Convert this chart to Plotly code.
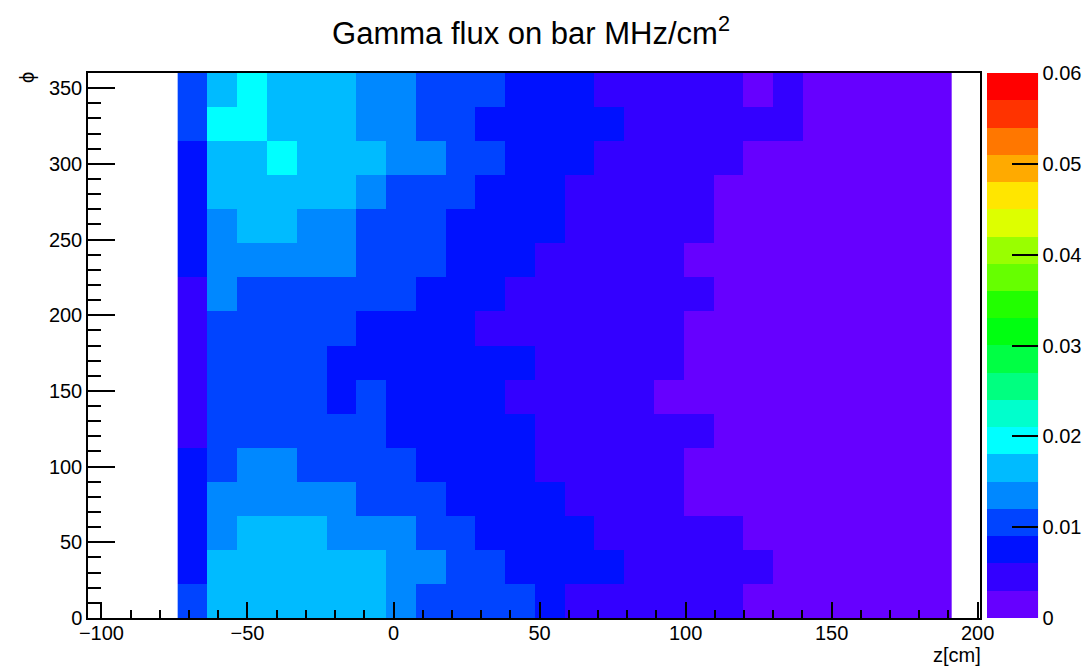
import numpy as np
import plotly.graph_objects as go

# ---------------- data ----------------
# z bins (cm): 26 bins between these limits
Z_LOW, Z_HIGH, N_Z = -73.9, 191.1, 26
# phi bins (deg): 16 bins between these limits
PHI_LOW, PHI_HIGH, N_PHI = 0.0, 360.0, 16

# Gamma flux estimates in kHz/cm^2 (rows: phi bin from 0 upward, cols: z bins)
flux_khz = [
    [10.5,16.5,16.5,16.5,16.5,16.5,16.5,13.5,10.5,10.5,10.5,10.5,7.5,4.5,4.5,4.5,4.5,4.5,4.5,1.5,1.5,1.5,1.5,1.5,1.5,1.5],
    [7.5,16.5,16.5,16.5,16.5,16.5,16.5,13.5,13.5,10.5,10.5,7.5,7.5,7.5,7.5,4.5,4.5,4.5,4.5,4.5,1.5,1.5,1.5,1.5,1.5,1.5],
    [7.5,13.5,16.5,16.5,16.5,13.5,13.5,13.5,10.5,10.5,7.5,7.5,7.5,7.5,4.5,4.5,4.5,4.5,4.5,1.5,1.5,1.5,1.5,1.5,1.5,1.5],
    [7.5,13.5,13.5,13.5,13.5,13.5,10.5,10.5,10.5,7.5,7.5,7.5,7.5,4.5,4.5,4.5,4.5,1.5,1.5,1.5,1.5,1.5,1.5,1.5,1.5,1.5],
    [7.5,10.5,13.5,13.5,10.5,10.5,10.5,10.5,7.5,7.5,7.5,7.5,4.5,4.5,4.5,4.5,4.5,1.5,1.5,1.5,1.5,1.5,1.5,1.5,1.5,1.5],
    [4.5,10.5,10.5,10.5,10.5,10.5,10.5,7.5,7.5,7.5,7.5,7.5,4.5,4.5,4.5,4.5,4.5,4.5,1.5,1.5,1.5,1.5,1.5,1.5,1.5,1.5],
    [4.5,10.5,10.5,10.5,10.5,7.5,10.5,7.5,7.5,7.5,7.5,4.5,4.5,4.5,4.5,4.5,1.5,1.5,1.5,1.5,1.5,1.5,1.5,1.5,1.5,1.5],
    [4.5,10.5,10.5,10.5,10.5,7.5,7.5,7.5,7.5,7.5,7.5,7.5,4.5,4.5,4.5,4.5,4.5,1.5,1.5,1.5,1.5,1.5,1.5,1.5,1.5,1.5],
    [4.5,10.5,10.5,10.5,10.5,10.5,7.5,7.5,7.5,7.5,4.5,4.5,4.5,4.5,4.5,4.5,4.5,1.5,1.5,1.5,1.5,1.5,1.5,1.5,1.5,1.5],
    [4.5,13.5,10.5,10.5,10.5,10.5,10.5,10.5,7.5,7.5,7.5,4.5,4.5,4.5,4.5,4.5,4.5,4.5,1.5,1.5,1.5,1.5,1.5,1.5,1.5,1.5],
    [7.5,13.5,13.5,13.5,13.5,13.5,10.5,10.5,10.5,7.5,7.5,7.5,4.5,4.5,4.5,4.5,4.5,1.5,1.5,1.5,1.5,1.5,1.5,1.5,1.5,1.5],
    [7.5,13.5,16.5,16.5,13.5,13.5,10.5,10.5,10.5,7.5,7.5,7.5,7.5,4.5,4.5,4.5,4.5,4.5,1.5,1.5,1.5,1.5,1.5,1.5,1.5,1.5],
    [7.5,16.5,16.5,16.5,16.5,16.5,13.5,10.5,10.5,10.5,7.5,7.5,7.5,4.5,4.5,4.5,4.5,4.5,1.5,1.5,1.5,1.5,1.5,1.5,1.5,1.5],
    [7.5,16.5,16.5,19.5,16.5,16.5,16.5,13.5,13.5,10.5,10.5,7.5,7.5,7.5,4.5,4.5,4.5,4.5,4.5,1.5,1.5,1.5,1.5,1.5,1.5,1.5],
    [10.5,19.5,19.5,16.5,16.5,16.5,13.5,13.5,10.5,10.5,7.5,7.5,7.5,7.5,7.5,4.5,4.5,4.5,4.5,4.5,4.5,1.5,1.5,1.5,1.5,1.5],
    [10.5,16.5,19.5,16.5,16.5,16.5,13.5,13.5,10.5,10.5,10.5,7.5,7.5,7.5,4.5,4.5,4.5,4.5,4.5,1.5,4.5,1.5,1.5,1.5,1.5,1.5],
]

# palette (20 contour levels, low -> high)
palette = ["#6600ff", "#3300ff", "#0011ff", "#0044ff", "#0088ff", "#00bbff",
           "#00ffff", "#00ffcc", "#00ff80", "#00ff44", "#00ff11", "#22ff00",
           "#66ff00", "#99ff00", "#ddff00", "#ffe600", "#ffaa00", "#ff7700",
           "#ff3300", "#ff0000"]
Z_MIN, Z_MAX = 0.0, 0.06
cbar_ticks = [0, 0.01, 0.02, 0.03, 0.04, 0.05, 0.06]
cbar_text = ["0", "0.01", "0.02", "0.03", "0.04", "0.05", "0.06"]

# ---------------- figure ----------------
W, H = 1090, 671
L, R, T, B = 88, 110, 73, 53
pw, ph = W - L - R, H - T - B

z = np.array(flux_khz) / 1000.0
assert z.shape == (N_PHI, N_Z)
x_edges = np.linspace(Z_LOW, Z_HIGH, N_Z + 1)
y_edges = np.linspace(PHI_LOW, PHI_HIGH, N_PHI + 1)

n = len(palette)
cscale = []
for i, c in enumerate(palette):
    cscale.append([i / n, c])
    cscale.append([(i + 1) / n, c])

FONT = "Liberation Sans, Arial, Helvetica, sans-serif"

def px_x(p):
    return (p - L) / pw

def px_y(p):
    return (H - B - p) / ph

fig = go.Figure(go.Heatmap(
    z=z, x=x_edges, y=y_edges,
    colorscale=cscale, zmin=Z_MIN, zmax=Z_MAX,
    hoverinfo="skip",
    colorbar=dict(
        thickness=51, thicknessmode="pixels",
        len=1, lenmode="fraction",
        x=px_x(986.7), xanchor="left", xpad=0,
        y=0.5, yanchor="middle", ypad=0,
        outlinewidth=0,
        ticks="inside", ticklen=26, tickwidth=1.5, tickcolor="black",
        tickvals=cbar_ticks, ticktext=cbar_text,
        tickfont=dict(size=20, color="black", family=FONT),
    ),
))

fig.update_layout(
    width=W, height=H,
    margin=dict(l=L, r=R, t=T, b=B, autoexpand=False),
    template="none",
    paper_bgcolor="white", plot_bgcolor="white",
    font=dict(family=FONT, size=20, color="black"),
    title=dict(text="Gamma flux on bar MHz/cm<sup>2</sup>",
               x=531 / W, xref="container", xanchor="center",
               y=1 - 33 / H, yref="container", yanchor="middle",
               font=dict(size=31, family=FONT, color="black")),
    showlegend=False,
)

fig.update_xaxes(
    range=[-104.6, 200.8], showgrid=False, zeroline=False,
    showline=True, linecolor="black", linewidth=1.5, mirror=True,
    ticks="inside", ticklen=16, tickwidth=1.5, tickcolor="black",
    tick0=0, dtick=50, ticklabelstandoff=-4,
    minor=dict(ticks="inside", ticklen=8, tickwidth=1.5, tickcolor="black", dtick=10, tick0=0, showgrid=False),
    tickfont=dict(size=20, family=FONT, color="black"),
)
fig.update_yaxes(
    range=[0, 360], showgrid=False, zeroline=False,
    showline=True, linecolor="black", linewidth=1.5, mirror=True,
    ticks="inside", ticklen=27, tickwidth=1.5, tickcolor="black",
    tick0=0, dtick=50,
    minor=dict(ticks="inside", ticklen=13, tickwidth=1.5, tickcolor="black", dtick=10, tick0=0, showgrid=False),
    tickfont=dict(size=20, family=FONT, color="black"),
)

# colorbar axis line on its right edge
fig.add_shape(type="line", xref="paper", yref="paper",
              x0=px_x(1037.3), x1=px_x(1037.3), y0=0, y1=1,
              line=dict(color="black", width=1.5))

# axis titles
fig.add_annotation(text="z[cm]", xref="paper", yref="paper",
                   x=px_x(983), y=px_y(655), xanchor="right", yanchor="middle",
                   showarrow=False, font=dict(size=20, family=FONT, color="black"))
fig.add_annotation(text="ϕ", xref="paper", yref="paper",
                   x=px_x(27), y=px_y(78), xanchor="center", yanchor="middle",
                   textangle=-90, showarrow=False,
                   font=dict(size=20, family=FONT, color="black"))

fig.write_html("out.html")
